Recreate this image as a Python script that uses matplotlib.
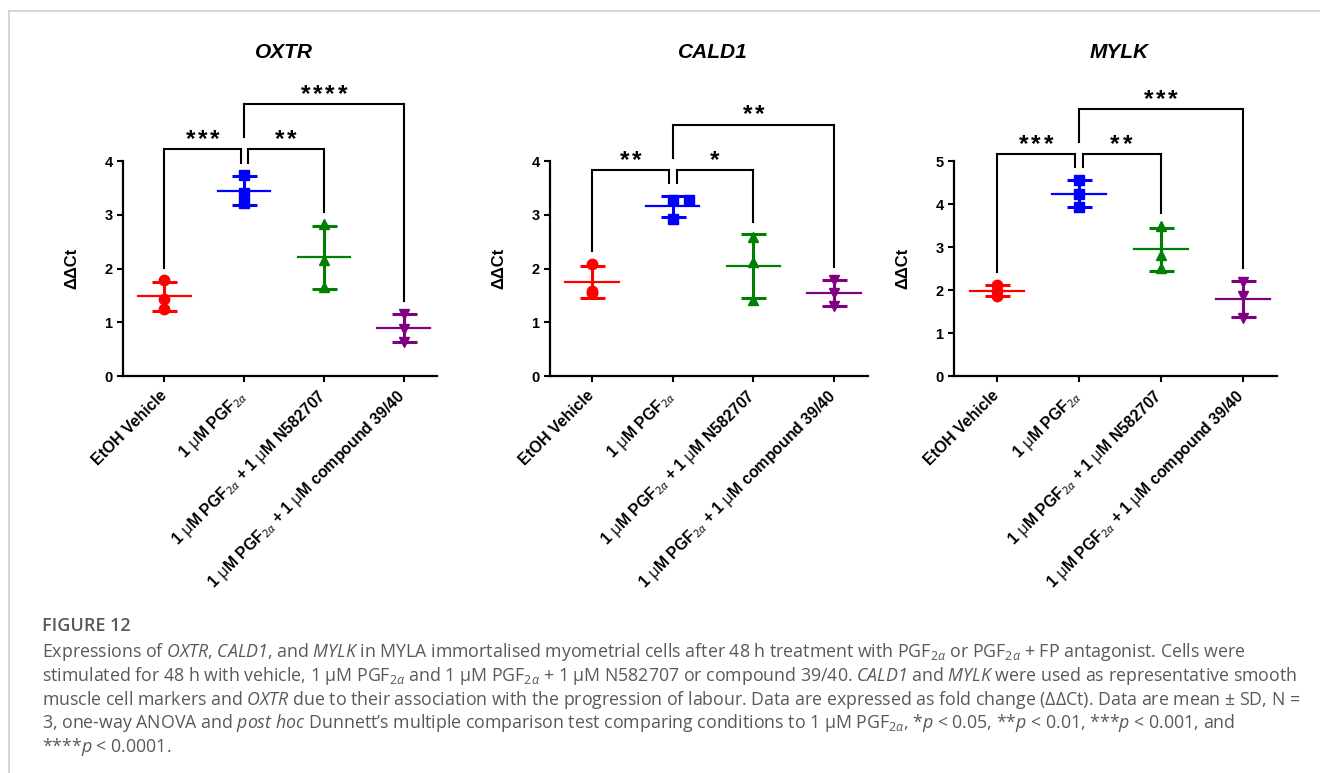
import matplotlib
matplotlib.use('Agg')
import matplotlib.pyplot as plt
from matplotlib.lines import Line2D
import matplotlib.transforms as mtransforms
import numpy as np

plt.rcParams['font.family'] = ['Liberation Sans', 'DejaVu Sans']
plt.rcParams['mathtext.fontset'] = 'custom'
plt.rcParams['mathtext.rm'] = 'Open Sans'
plt.rcParams['mathtext.it'] = 'Open Sans:italic'
plt.rcParams['mathtext.bf'] = 'Open Sans:bold'
plt.rcParams['mathtext.sf'] = 'Open Sans:italic'
plt.rcParams['mathtext.fallback'] = 'stixsans'

# ---------------- data ----------------
categories = [
    'EtOH Vehicle',
    r'1 $\mathrm{\mu}$M PGF$_{2\alpha}$',
    r'1 $\mathrm{\mu}$M PGF$_{2\alpha}$ + 1 $\mathrm{\mu}$M N582707',
    r'1 $\mathrm{\mu}$M PGF$_{2\alpha}$ + 1 $\mathrm{\mu}$M compound 39/40',
]
genes = ['OXTR', 'CALD1', 'MYLK']
oxtr = [[1.78, 1.43, 1.24], [3.74, 3.40, 3.21], [2.82, 2.15, 1.65], [1.16, 0.88, 0.64]]
cald1 = [[2.09, 1.59, 1.55], [3.27, 3.27, 2.93], [2.59, 2.12, 1.41], [1.79, 1.55, 1.30]]
mylk = [[2.12, 1.97, 1.86], [4.56, 4.24, 3.92], [3.50, 2.82, 2.52], [2.18, 1.86, 1.35]]
gene_values = [oxtr, cald1, mylk]
y_max = [4, 4, 5]
y_ticks = [[0, 1, 2, 3, 4], [0, 1, 2, 3, 4], [0, 1, 2, 3, 4, 5]]
# comparisons vs 1 uM PGF2a: EtOH, N582707, compound 39/40
sig_oxtr = ['***', '**', '****']
sig_cald1 = ['**', '*', '**']
sig_mylk = ['***', '**', '***']
gene_sig = [sig_oxtr, sig_cald1, sig_mylk]

colors = ['#ff0000', '#0000ff', '#008000', '#800080']
markers = ['o', 's', '^', 'v']

# ---------------- layout ----------------
W, H = 1320, 773
fig = plt.figure(figsize=(W / 100, H / 100), dpi=100)
axes_px = [(123, 437), (550, 868), (954, 1277)]  # left/right in px
ax_top, ax_bot = 161, 376
xlim = (-0.52, 3.42)

# border
fig.add_artist(Line2D([9 / W, 9 / W], [0, 1 - 11 / H], color='#cfcfcf', lw=1.2))
fig.add_artist(Line2D([9 / W, 1], [1 - 11 / H, 1 - 11 / H], color='#cfcfcf', lw=1.2))

for gi, gene in enumerate(genes):
    l, r = axes_px[gi]
    ax = fig.add_axes([l / W, 1 - ax_bot / H, (r - l) / W, (ax_bot - ax_top) / H])
    vals = gene_values[gi]
    ym = y_max[gi]
    means, sds, tops = [], [], []
    for ci, v in enumerate(vals):
        v = np.array(v, dtype=float)
        m = v.mean()
        s = v.std(ddof=1)
        means.append(m); sds.append(s); tops.append(max(v.max(), m + s))
        # dodge identical points
        xs = np.zeros(len(v))
        seen = []
        for k, val in enumerate(v):
            n = sum(abs(val - p) < 0.03 for p in seen)
            xs[k] = 0.2 * n
            seen.append(val)
        ax.plot(ci + xs, v, linestyle='none', marker=markers[ci], color=colors[ci],
                markersize=7.5, zorder=4, clip_on=False)
        ax.errorbar(ci, m, yerr=s, fmt='none', ecolor=colors[ci], elinewidth=2.2,
                    capsize=9, capthick=2.2, zorder=3)
        ax.plot([ci - 0.33, ci + 0.33], [m, m], color=colors[ci], lw=1.6, zorder=3)

    ax.set_xlim(*xlim)
    ax.set_ylim(0, ym)
    ax.set_yticks(y_ticks[gi])
    ax.set_xticks(range(len(categories)))
    ax.set_xticklabels(categories, rotation=45, ha='right', va='center',
                       rotation_mode='anchor', fontsize=11.4, fontweight='bold')
    for lab in ax.get_yticklabels():
        lab.set_fontweight('bold')
        lab.set_fontsize(10.5)
    ax.tick_params(axis='both', width=1.5, length=4.5, color='black', pad=3)
    ax.tick_params(axis='x', pad=8)
    for sp in ['top', 'right']:
        ax.spines[sp].set_visible(False)
    for sp in ['left', 'bottom']:
        ax.spines[sp].set_linewidth(1.6)
    ax.set_ylabel('ΔΔCt', fontsize=12, fontweight='bold')
    ax.yaxis.set_label_coords(-44 / (r - l), 0.5)

    # title
    trans = mtransforms.blended_transform_factory(ax.transData, fig.transFigure)
    ax.text(1.5, 1 - 52 / H, gene, transform=trans, ha='center', va='center',
            fontsize=15, fontweight='bold', fontstyle='italic')

    # significance brackets
    gap = 0.058 * ym
    bottoms = [t + gap for t in tops]
    b1 = bottoms[1] + 0.062 * ym
    b3 = b1 + 0.21 * ym
    kw = dict(color='black', lw=1.5, clip_on=False, zorder=5, solid_joinstyle='miter')
    ax.plot([0, 0, 0.96, 0.96], [bottoms[0], b1, b1, bottoms[1]], **kw)
    ax.plot([1.05, 1.05, 2, 2], [bottoms[1], b1, b1, bottoms[2]], **kw)
    ax.plot([1, 1, 3, 3], [b1 + gap, b3, b3, bottoms[3]], **kw)
    sig = gene_sig[gi]
    for (xc, yb, lab) in [(0.48, b1, sig[0]), (1.52, b1, sig[1]), (2.0, b3, sig[2])]:
        n = len(lab)
        for k in range(n):
            dx = (k - (n - 1) / 2) * 8.8
            ax.annotate('*', (xc, yb + 0.016 * ym), xytext=(dx, 0), textcoords='offset points',
                        ha='center', va='baseline', fontsize=17.5, fontweight='bold',
                        annotation_clip=False)

# ---------------- caption ----------------
cap_color = '#595959'
x0 = 42 / W
fig.text(x0, 1 - 631 / H, 'FIGURE 12', fontsize=13, color=cap_color,
         family='Open Sans', fontweight='semibold', va='baseline')
P = r'PGF$_{2\alpha}$'
lines = [
    r'Expressions of $\mathsf{OXTR}$, $\mathsf{CALD1}$, and $\mathsf{MYLK}$ in MYLA immortalised myometrial cells after 48 h treatment with '
    + P + ' or ' + P + ' + FP antagonist. Cells were',
    r'stimulated for 48 h with vehicle, 1 μM ' + P + ' and 1 μM ' + P
    + r' + 1 μM N582707 or compound 39/40. $\mathsf{CALD1}$ and $\mathsf{MYLK}$ were used as representative smooth',
    r'muscle cell markers and $\mathsf{OXTR}$ due to their association with the progression of labour. Data are expressed as fold change (ΔΔCt). Data are mean ± SD, N =',
    r'3, one-way ANOVA and $\mathsf{post\ hoc}$ Dunnett’s multiple comparison test comparing conditions to 1 μM ' + P
    + r', *$\mathsf{p}$ < 0.05, **$\mathsf{p}$ < 0.01, ***$\mathsf{p}$ < 0.001, and',
    r'****$\mathsf{p}$ < 0.0001.',
]
baselines = [657, 681, 705, 728, 752]
for txt, yb in zip(lines, baselines):
    fig.text(x0, 1 - yb / H, txt, fontsize=12.8, color=cap_color, family='Open Sans', va='baseline')

fig.savefig('out.png', dpi=100)
